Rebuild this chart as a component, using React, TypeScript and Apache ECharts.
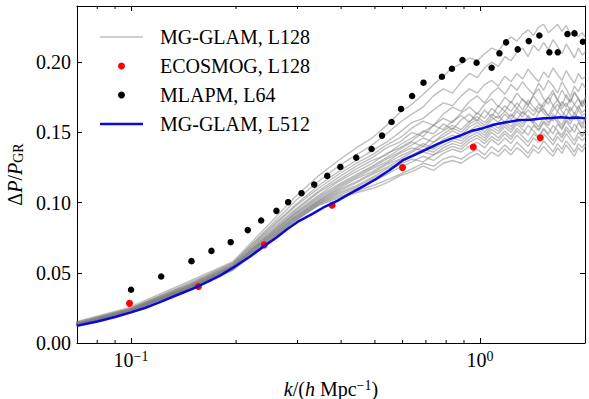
import React, { useEffect, useRef } from "react";
import * as echarts from "echarts";

// k bins of the L128 runs (h/Mpc)
const kGridL128 = [0.049,0.098,0.147,0.196,0.245,0.295,0.344,0.393,0.442,0.491,0.540,0.589,0.638,0.687,0.736,0.785,0.834,0.884,0.933,0.982,1.031,1.080,1.129,1.178,1.227,1.276,1.325,1.374,1.424,1.473,1.522,1.571,1.620,1.669,1.718,1.767,1.816,1.865,1.914,1.963,2.013];

// MG-GLAM L128 realisations
const runA = [.005,.025,.044,.058,.083,.104,.119,.130,.139,.146,.155,.164,.170,.177,.184,.190,.196,.199,.203,.201,.206,.210,.208,.214,.218,.215,.220,.223,.219,.225,.227,.221,.224,.227,.222,.226,.220,.223,.218,.221,.217];
const runB = [.005,.024,.043,.057,.081,.101,.115,.126,.134,.141,.149,.157,.163,.168,.176,.181,.178,.186,.192,.189,.196,.200,.197,.204,.201,.207,.210,.204,.212,.208,.214,.209,.216,.211,.206,.213,.208,.203,.210,.205,.208];
const runC = [.004,.024,.042,.057,.080,.098,.112,.122,.130,.137,.143,.150,.157,.160,.166,.171,.169,.176,.181,.178,.184,.187,.183,.190,.186,.192,.188,.195,.190,.186,.193,.189,.196,.191,.187,.194,.189,.185,.192,.188,.190];
const runD = [.004,.024,.042,.056,.079,.097,.110,.120,.128,.134,.141,.146,.153,.158,.155,.163,.168,.165,.172,.176,.171,.178,.182,.177,.184,.180,.186,.181,.177,.185,.180,.187,.183,.178,.186,.181,.175,.183,.179,.185,.181];
const runE = [.004,.023,.041,.056,.078,.095,.108,.118,.126,.132,.139,.143,.150,.147,.155,.160,.157,.164,.168,.163,.170,.174,.168,.175,.171,.178,.173,.169,.177,.181,.174,.170,.178,.173,.180,.175,.171,.179,.174,.170,.176];
const runF = [.004,.023,.041,.055,.077,.094,.107,.116,.124,.130,.134,.141,.146,.151,.149,.156,.152,.159,.163,.158,.166,.161,.169,.165,.172,.167,.174,.170,.176,.171,.168,.175,.180,.173,.169,.177,.172,.178,.174,.169,.175];
const runG = [.004,.023,.041,.055,.076,.093,.105,.115,.122,.128,.135,.139,.144,.150,.155,.152,.158,.162,.157,.164,.160,.167,.163,.169,.165,.171,.166,.173,.168,.164,.171,.175,.169,.165,.172,.168,.174,.170,.166,.173,.169];
const runH = [.004,.023,.040,.055,.076,.092,.104,.113,.120,.126,.132,.138,.143,.140,.147,.151,.155,.152,.158,.161,.157,.163,.160,.165,.161,.167,.163,.169,.165,.170,.166,.162,.169,.173,.167,.171,.165,.170,.174,.168,.171];
const runI = [.004,.023,.040,.055,.075,.092,.103,.112,.119,.125,.131,.136,.141,.146,.143,.149,.153,.150,.156,.159,.155,.161,.157,.163,.159,.165,.161,.166,.162,.168,.164,.160,.166,.170,.165,.161,.168,.163,.169,.164,.167];
const runJ = [.004,.023,.040,.054,.075,.091,.102,.111,.118,.124,.129,.135,.139,.137,.143,.147,.151,.148,.154,.157,.153,.159,.162,.157,.163,.159,.165,.161,.157,.164,.167,.162,.158,.165,.161,.167,.163,.159,.166,.162,.164];
const runK = [.004,.022,.040,.054,.074,.090,.101,.110,.117,.122,.128,.133,.137,.142,.139,.145,.148,.146,.151,.155,.150,.156,.153,.158,.154,.160,.156,.162,.158,.154,.161,.157,.163,.159,.155,.162,.158,.164,.160,.156,.161];
const runL = [.004,.022,.039,.054,.074,.090,.101,.109,.115,.121,.127,.131,.136,.140,.138,.143,.146,.144,.149,.152,.148,.154,.151,.156,.152,.158,.154,.160,.156,.152,.158,.155,.161,.157,.153,.159,.156,.162,.158,.154,.160];
const runM = [.004,.022,.039,.054,.073,.089,.100,.108,.114,.120,.125,.130,.134,.138,.136,.141,.144,.142,.147,.150,.146,.152,.149,.154,.150,.156,.152,.148,.155,.151,.157,.153,.149,.156,.152,.158,.154,.150,.157,.153,.155];
const runN = [.003,.022,.039,.053,.073,.089,.100,.107,.112,.118,.124,.128,.133,.136,.134,.139,.142,.140,.145,.148,.144,.150,.146,.151,.147,.153,.149,.155,.151,.147,.153,.149,.155,.151,.148,.154,.150,.156,.152,.148,.153];
const runO = [.003,.022,.039,.053,.072,.088,.099,.106,.111,.117,.122,.127,.131,.129,.134,.137,.140,.138,.143,.146,.142,.147,.144,.149,.145,.151,.147,.143,.149,.146,.152,.148,.144,.150,.146,.152,.148,.144,.150,.147,.150];
const runP = [.003,.022,.039,.053,.072,.088,.099,.105,.110,.115,.120,.125,.129,.133,.130,.135,.138,.136,.140,.143,.139,.145,.141,.146,.142,.148,.144,.140,.146,.143,.149,.145,.141,.147,.143,.149,.145,.141,.147,.144,.147];
const runQ = [.003,.022,.039,.052,.071,.087,.098,.104,.108,.112,.116,.120,.124,.128,.126,.131,.133,.131,.135,.138,.134,.140,.136,.141,.137,.143,.139,.135,.141,.138,.144,.140,.136,.142,.138,.144,.140,.136,.142,.139,.143];
const runR = [.003,.022,.039,.052,.071,.087,.098,.103,.107,.110,.114,.119,.122,.126,.123,.128,.130,.128,.132,.135,.131,.136,.133,.138,.134,.139,.136,.132,.138,.135,.140,.136,.133,.139,.135,.141,.137,.133,.139,.136,.141];
const grayRuns = [runA, runB, runC, runD, runE, runF, runG, runH, runI, runJ, runK, runL, runM, runN, runO, runP, runQ, runR];

// ECOSMOG, L128
const ecosmogK = [0.099, 0.156, 0.241, 0.377, 0.600, 0.957, 1.489];
const ecosmogV = [0.0282, 0.0403, 0.0699, 0.0981, 0.1249, 0.1396, 0.1462];

// MLAPM, L64
const mlapmK = [0.100,0.122,0.149,0.170,0.193,0.216,0.236,0.261,0.282,0.308,0.335,0.365,0.398,0.442,0.489,0.524,0.558,0.594,0.639,0.689,0.778,0.831,0.891,0.978,1.080,1.137,1.188,1.283,1.380,1.480,1.581,1.671,1.781,1.866,1.972];
const mlapmV = [0.0379,0.0474,0.0583,0.0656,0.0718,0.0804,0.0872,0.0941,0.1003,0.1067,0.1128,0.1190,0.1254,0.1320,0.1382,0.1477,0.1574,0.1667,0.1759,0.1854,0.1896,0.1953,0.2015,0.1996,0.1960,0.2063,0.2141,0.2091,0.2150,0.2190,0.2070,0.2070,0.2200,0.2205,0.2145];

// MG-GLAM, L512
const l512K = [0.07,0.08,0.09,0.10,0.11,0.12,0.135,0.15,0.165,0.18,0.20,0.22,0.24,0.26,0.28,0.30,0.33,0.36,0.39,0.42,0.46,0.50,0.55,0.60,0.65,0.70,0.76,0.82,0.88,0.95,1.02,1.10,1.20,1.30,1.40,1.50,1.60,1.70,1.80,1.90,2.00];
const l512V = [0.0123,0.0153,0.0185,0.0218,0.0251,0.0287,0.0340,0.0386,0.0433,0.0480,0.0550,0.0618,0.0688,0.0748,0.0810,0.0862,0.0918,0.0972,0.1012,0.1058,0.1112,0.1163,0.1230,0.1300,0.1340,0.1378,0.1420,0.1452,0.1478,0.1512,0.1530,0.1556,0.1574,0.1588,0.1590,0.1598,0.1603,0.1608,0.1603,0.1606,0.1600];

// axes
const xMin = 0.07;
const xMax = 2;
const yMin = 0;
const yMax = 0.24;
const yInterval = 0.05;
const minorTickK = [0.08, 0.09, 0.2, 0.3, 0.4, 0.5, 0.6, 0.7, 0.8, 0.9];

const legendNames = ["MG-GLAM, L128", "ECOSMOG, L128", "MLAPM, L64", "MG-GLAM, L512"];

export default function App() {
  const ref = useRef<HTMLDivElement>(null);

  useEffect(() => {
    const chart = echarts.init(ref.current!, null, { renderer: "svg" });
    const font = "'Liberation Serif', 'Times New Roman', serif";
    const gray = "rgba(128,128,128,0.5)";
    const blue = "#0a0ad8";

    const graySeries = grayRuns.map((vals) => ({
      name: legendNames[0],
      type: "line",
      data: kGridL128.map((k, i) => [k, vals[i]]),
      symbol: "none",
      showSymbol: false,
      lineStyle: { color: gray, width: 1.4 },
      itemStyle: { color: gray },
      silent: true,
      clip: true,
      z: 2,
    }));

    const xLabelFmt = (v: number) => {
      const e = Math.log10(v);
      if (Math.abs(e - Math.round(e)) > 1e-6) return "";
      const r = Math.round(e);
      return `{b|10}{s|${r < 0 ? "\u2212" : ""}${Math.abs(r)}}`;
    };

    const axisLine = { show: true, onZero: false, lineStyle: { color: "#000", width: 1 } };
    const tick = { show: true, inside: true, length: 5, lineStyle: { color: "#000", width: 1 } };

    chart.setOption({
      animation: false,
      textStyle: { fontFamily: font },
      grid: { left: 77, top: 6, width: 508, height: 337, outerBoundsMode: "none" },
      legend: {
        left: 95,
        top: 22,
        orient: "vertical",
        itemWidth: 43,
        itemHeight: 7,
        itemGap: 9,
        selectedMode: false,
        data: [
          { name: legendNames[0], icon: "path://M0,0L43,0L43,1.5L0,1.5Z", itemStyle: { color: gray } },
          { name: legendNames[1], icon: "circle" },
          { name: legendNames[2], icon: "circle" },
          { name: legendNames[3], icon: "path://M0,0L43,0L43,2.6L0,2.6Z", itemStyle: { color: blue } },
        ],
        textStyle: { fontFamily: font, fontSize: 20, color: "#000", lineHeight: 20, padding: [0, 0, 0, 12] },
      },
      xAxis: [
        {
          type: "log",
          logBase: 10,
          min: xMin,
          max: xMax,
          position: "bottom",
          axisLine,
          axisTick: tick,
          splitLine: { show: false },
          axisLabel: {
            formatter: xLabelFmt,
            margin: 6,
            showMinLabel: false,
            showMaxLabel: false,
            rich: {
              b: { fontFamily: font, fontSize: 20, color: "#000" },
              s: { fontFamily: font, fontSize: 14, color: "#000", verticalAlign: "top", padding: [0, 0, 8, 0] },
            },
          },
          name: "{i|k}{r|/(}{i|h}{r| Mpc}{s|\u22121}{r|)}",
          nameLocation: "middle",
          nameGap: 35,
          nameTextStyle: {
            color: "#000",
            rich: {
              i: { fontFamily: font, fontSize: 20, fontStyle: "italic", color: "#000" },
              r: { fontFamily: font, fontSize: 20, color: "#000" },
              s: { fontFamily: font, fontSize: 14, color: "#000", verticalAlign: "top", padding: [0, 0, 8, 0] },
            },
          },
        },
        {
          type: "log",
          logBase: 10,
          min: xMin,
          max: xMax,
          position: "top",
          axisLine,
          axisTick: tick,
          splitLine: { show: false },
          axisLabel: { show: false },
        },
      ],
      yAxis: [
        {
          type: "value",
          min: yMin,
          max: yMax,
          interval: yInterval,
          position: "left",
          axisLine,
          axisTick: tick,
          splitLine: { show: false },
          axisLabel: {
            formatter: (v: number) => v.toFixed(2),
            margin: 6,
            showMaxLabel: false,
            fontFamily: font,
            fontSize: 20,
            color: "#000",
          },
          name: "{r|\u0394}{i|P}{r|/}{i|P}{sub|GR}",
          nameLocation: "middle",
          nameGap: 52,
          nameTextStyle: {
            color: "#000",
            rich: {
              i: { fontFamily: font, fontSize: 20, fontStyle: "italic", color: "#000" },
              r: { fontFamily: font, fontSize: 20, color: "#000" },
              sub: { fontFamily: font, fontSize: 14, color: "#000", verticalAlign: "bottom", padding: [6, 0, 0, 0] },
            },
          },
        },
        {
          type: "value",
          min: yMin,
          max: yMax,
          interval: yInterval,
          position: "right",
          axisLine,
          axisTick: tick,
          splitLine: { show: false },
          axisLabel: { show: false },
        },
      ],
      series: [
        ...graySeries,
        {
          name: legendNames[1],
          type: "scatter",
          data: ecosmogK.map((k, i) => [k, ecosmogV[i]]),
          symbol: "circle",
          symbolSize: 7,
          itemStyle: { color: "#ff0000", opacity: 1 },
          z: 3,
        },
        {
          name: legendNames[2],
          type: "scatter",
          data: mlapmK.map((k, i) => [k, mlapmV[i]]),
          symbol: "circle",
          symbolSize: 6.5,
          itemStyle: { color: "#000", opacity: 1 },
          z: 4,
        },
        {
          name: legendNames[3],
          type: "line",
          data: l512K.map((k, i) => [k, l512V[i]]),
          symbol: "none",
          showSymbol: false,
          lineStyle: { color: blue, width: 2.5 },
          itemStyle: { color: blue },
          z: 5,
        },
        {
          type: "custom",
          silent: true,
          clip: false,
          data: minorTickK.map((k) => [k, 0]),
          renderItem: (params: any, api: any) => {
            const x = api.coord([api.value(0), 0])[0];
            const cs = params.coordSys;
            const yb = cs.y + cs.height;
            const yt = cs.y;
            return {
              type: "group",
              children: [
                { type: "line", shape: { x1: x, y1: yb, x2: x, y2: yb - 3 }, style: { stroke: "#000", lineWidth: 1 } },
                { type: "line", shape: { x1: x, y1: yt, x2: x, y2: yt + 3 }, style: { stroke: "#000", lineWidth: 1 } },
              ],
            };
          },
          z: 6,
        },
      ],
    });

    return () => chart.dispose();
  }, []);

  return (
    <div
      ref={ref}
      style={{ position: "fixed", left: 0, top: 0, width: 589, height: 399, background: "#fff" }}
    />
  );
}
